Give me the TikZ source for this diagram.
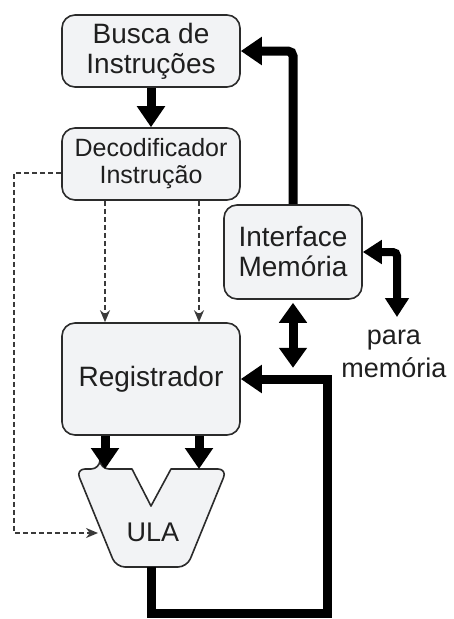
\documentclass[tikz,border=0pt]{standalone}
\usepackage{fontspec}
\setmainfont{Liberation Sans}
\usetikzlibrary{arrows.meta}
\definecolor{boxfill}{HTML}{F2F3F5}
\definecolor{boxline}{HTML}{2B2B2B}
\definecolor{dashcol}{HTML}{3A3A3A}
\begin{document}
\begin{tikzpicture}[x=1pt,y=-1pt,
  blk/.style={draw=boxline, fill=boxfill, line width=1.6pt, rounded corners=13pt,
    align=center, font=\fontsize{28}{30}\selectfont, inner sep=0pt, text=black!88},
  bus/.style={line width=9pt, -{Triangle[width=27pt,length=21pt]}},
  dbus/.style={line width=9pt, {Triangle[width=27pt,length=20pt]}-{Triangle[width=27pt,length=20pt]}},
  sbus/.style={line width=8pt, {Triangle[width=23pt,length=19pt]}-{Triangle[width=23pt,length=19pt]}},
  dsh/.style={draw=dashcol, line width=1.9pt, dash pattern=on 5pt off 3pt,
    -{Stealth[width=10pt,length=12pt]}},
  lbl/.style={align=center, font=\fontsize{27}{33}\selectfont, text=black!88, inner sep=0pt}
]
\useasboundingbox (0,0) rectangle (453,619);

% boxes
\node[blk, minimum width=178pt, minimum height=72pt] (busca) at (151,51) {Busca de\\Instruções};
\node[blk, minimum width=178pt, minimum height=72pt, font=\fontsize{25}{27}\selectfont] (decod) at (151,164) {Decodificador\\Instrução};
\node[blk, minimum width=138pt, minimum height=94pt] (iface) at (293,252) {Interface\\Memória};
\node[blk, minimum width=178pt, minimum height=112pt] (reg) at (151,379) {Registrador};

% ULA shape
\draw[draw=boxline, fill=boxfill, line width=1.6pt, line join=round]
  (100,469) -- (132,469) -- (151,506) -- (171,469)
  [rounded corners=9pt] -- (227,469) -- (187,567) -- (116,567) -- (76,469) -- (100,469) -- cycle;
\node[font=\fontsize{27}{30}\selectfont, text=black!88, inner sep=0pt] (ula) at (153,532) {ULA};

\node[lbl] (pm) at (394,354) {para\\memória};

% coordinates
\coordinate (ut1) at (105,469);
\coordinate (ut2) at (199,469);
\coordinate (ulab) at (151.5,567);
\coordinate (fb) at (327,613);
\coordinate (pmt) at (397,317);
\coordinate (dl) at (14,533);
\coordinate (ulaw) at (98,533);

% thick buses
\draw[bus] (busca) -- (decod);
\draw[bus, rounded corners=5pt] (iface.north) |- (busca.east);
\draw[sbus, rounded corners=4pt] (iface.east) -| (pmt);
\draw[dbus] ([yshift=-3pt]iface.south) -- ++(0,65);
\draw[bus] (ulab) |- (fb) |- (reg.east);
\draw[bus] (reg.south -| ut1) -- (ut1);
\draw[bus] (reg.south -| ut2) -- (ut2);

% dashed control lines
\draw[dsh] (decod.south -| ut1) -- (reg.north -| ut1);
\draw[dsh] (decod.south -| ut2) -- (reg.north -| ut2);
\draw[dsh] ([yshift=-9pt]decod.west) -| (dl) -- (ulaw);
\end{tikzpicture}
\end{document}
